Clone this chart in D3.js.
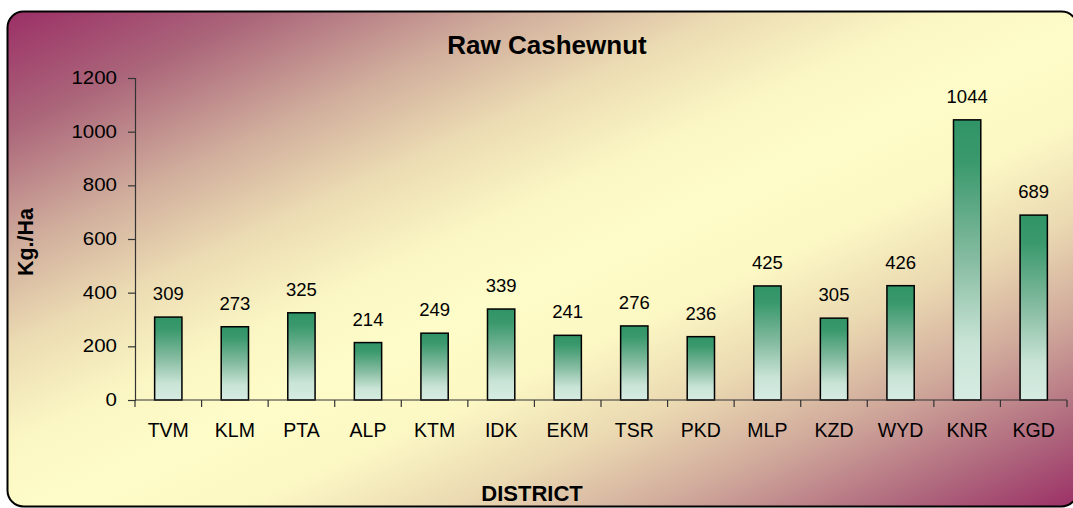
<!DOCTYPE html>
<html>
<head>
<meta charset="utf-8">
<script src="https://cdn.jsdelivr.net/npm/d3@7"></script>
<style>
  html, body { margin: 0; padding: 0; background: #ffffff; }
  svg { display: block; font-family: Arial, "Liberation Sans", sans-serif; }
</style>
</head>
<body>
<svg id="chart" width="1073" height="508"></svg>
<script>
// District-wise productivity of raw cashewnut (Kg./Ha)
const districts = ["TVM", "KLM", "PTA", "ALP", "KTM", "IDK", "EKM", "TSR", "PKD", "MLP", "KZD", "WYD", "KNR", "KGD"];
const yieldKgHa = [309, 273, 325, 214, 249, 339, 241, 276, 236, 425, 305, 426, 1044, 689];
const yTicks = [0, 200, 400, 600, 800, 1000, 1200];
const chartTitle = "Raw Cashewnut";
const xTitle = "DISTRICT";
const yTitle = "Kg./Ha";

const svg = d3.select("#chart");

const defs = svg.append("defs");

// Diagonal background wash: magenta corners, pale yellow centre
const bg = defs.append("linearGradient")
  .attr("id", "bgGrad")
  .attr("x1", 0).attr("y1", 0).attr("x2", 1).attr("y2", 1);
[
  [0.00, "#9b2f66"], [0.12, "#ab667a"], [0.24, "#d0ad9c"], [0.34, "#ecdcb3"],
  [0.44, "#fbf7c4"], [0.52, "#fefcc8"], [0.61, "#fcf8c4"], [0.71, "#ead8b1"],
  [0.81, "#cfa79a"], [0.91, "#b06a7e"], [1.00, "#9b2f66"]
].forEach(([o, c]) => bg.append("stop").attr("offset", o).attr("stop-color", c));

// Bar fill: deep green at the top fading to pale mint
const barGrad = defs.append("linearGradient")
  .attr("id", "barGrad")
  .attr("x1", 0).attr("y1", 0).attr("x2", 0).attr("y2", 1);
[
  [0.00, "#309467"], [0.15, "#3a996d"], [0.50, "#86bca1"], [0.80, "#c9e4d6"], [1.00, "#d6ece2"]
].forEach(([o, c]) => barGrad.append("stop").attr("offset", o).attr("stop-color", c));

// Chart area frame
svg.append("rect")
  .attr("x", 7.5).attr("y", 11.5)
  .attr("width", 1070).attr("height", 495)
  .attr("rx", 16).attr("ry", 16)
  .attr("fill", "url(#bgGrad)")
  .attr("stroke", "#000").attr("stroke-width", 2);

const plot = { left: 135, right: 1067, top: 78, bottom: 400 };

const x = d3.scaleBand()
  .domain(districts)
  .range([plot.left, plot.right])
  .paddingInner(0.59)
  .paddingOuter(0.295);

const y = d3.scaleLinear()
  .domain([0, 1200])
  .range([plot.bottom, plot.top]);

// Bars
svg.append("g").selectAll("rect")
  .data(districts)
  .join("rect")
  .attr("x", d => x(d))
  .attr("y", (d, i) => y(yieldKgHa[i]))
  .attr("width", x.bandwidth())
  .attr("height", (d, i) => y(0) - y(yieldKgHa[i]))
  .attr("fill", "url(#barGrad)")
  .attr("stroke", "#000")
  .attr("stroke-width", 1.5);

// Value labels above bars
svg.append("g").selectAll("text")
  .data(districts)
  .join("text")
  .attr("x", d => x(d) + x.bandwidth() / 2)
  .attr("y", (d, i) => y(yieldKgHa[i]) - 17)
  .attr("text-anchor", "middle")
  .attr("font-size", 18.5)
  .attr("fill", "#000")
  .text((d, i) => yieldKgHa[i]);

// Y axis (tick labels drawn slightly wide)
const labelStretch = 1.17;
const yAxis = svg.append("g")
  .attr("transform", `translate(${plot.left},0)`)
  .call(d3.axisLeft(y).tickValues(yTicks).tickSize(7).tickPadding(11).tickFormat(d3.format("d")));
yAxis.select(".domain").attr("stroke", "#333").attr("stroke-width", 1.2);
yAxis.selectAll(".tick line").attr("stroke", "#333").attr("stroke-width", 1.2);
yAxis.selectAll(".tick text")
  .attr("font-size", 17.5)
  .attr("font-family", "Arial, 'Liberation Sans', sans-serif")
  .attr("fill", "#000")
  .attr("x", -18 / labelStretch)
  .attr("transform", `scale(${labelStretch},1)`);

// X axis: ticks sit on category boundaries
const xAxisG = svg.append("g").attr("transform", `translate(0,${plot.bottom})`);
xAxisG.append("line")
  .attr("x1", plot.left).attr("x2", plot.right)
  .attr("stroke", "#333").attr("stroke-width", 1.2);
const step = x.step();
xAxisG.selectAll("line.tk")
  .data(d3.range(districts.length + 1))
  .join("line")
  .attr("class", "tk")
  .attr("x1", i => plot.left + i * step).attr("x2", i => plot.left + i * step)
  .attr("y1", 0).attr("y2", 7)
  .attr("stroke", "#333").attr("stroke-width", 1.2);
xAxisG.selectAll("text")
  .data(districts)
  .join("text")
  .attr("x", d => x(d) + x.bandwidth() / 2)
  .attr("y", 37)
  .attr("text-anchor", "middle")
  .attr("font-size", 19.5)
  .attr("fill", "#000")
  .text(d => d);

// Titles
svg.append("text")
  .attr("x", 547).attr("y", 54)
  .attr("text-anchor", "middle")
  .attr("font-size", 26).attr("font-weight", "bold")
  .text(chartTitle);

svg.append("text")
  .attr("x", 532).attr("y", 500.5)
  .attr("text-anchor", "middle")
  .attr("font-size", 22).attr("font-weight", "bold")
  .text(xTitle);

svg.append("text")
  .attr("transform", "translate(33.3,242) rotate(-90)")
  .attr("text-anchor", "middle")
  .attr("font-size", 21.5).attr("font-weight", "bold")
  .text(yTitle);
</script>
</body>
</html>
